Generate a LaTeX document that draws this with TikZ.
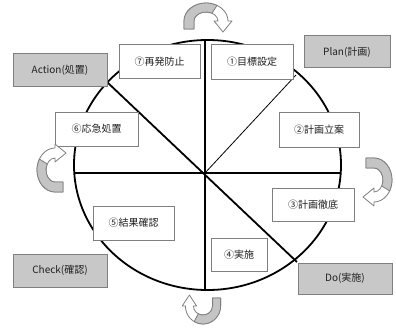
\documentclass[tikz,border=0pt]{standalone}
\usepackage{fontspec}
\setmainfont{Noto Sans CJK JP}
\definecolor{boxgray}{HTML}{C8C8C8}
\definecolor{edgegray}{HTML}{7F7F7F}
\definecolor{arrowgray}{HTML}{C4C4C4}
\definecolor{txt}{HTML}{202020}
\newcommand{\cyclearrow}{%
  \filldraw[arrowedge, fill=white] (-22,-8) -- (-22,0)
    arc[start angle=180, end angle=0, x radius=22, y radius=18]
    -- (26,0) -- (17,-11) -- (8,0) -- (12,0)
    arc[start angle=0, end angle=180, x radius=12, y radius=9] -- (-12,-8) -- cycle;
  \filldraw[arrowedge, fill=arrowgray] (-22,-8) -- (-22,0)
    arc[start angle=180, end angle=60, x radius=22, y radius=18]
    -- (6,7.79) arc[start angle=60, end angle=180, x radius=12, y radius=9]
    -- (-12,-8) -- cycle;
}
\begin{document}
\begin{tikzpicture}[x=1pt,y=-1pt,
  wbox/.style={draw=edgegray, line width=1pt, fill=white, inner sep=0pt, text=txt,
    font=\fontsize{10}{12}\selectfont},
  gbox/.style={draw=edgegray, line width=1pt, fill=boxgray, inner sep=0pt, text=txt,
    font=\fontsize{10}{12}\selectfont},
  cyc/.style={line width=1.8pt, black},
  thinline/.style={line width=0.8pt, black},
  arrowedge/.style={draw=edgegray, line width=0.8pt, line join=round}]
\useasboundingbox (0,0) rectangle (396,329);

% circle and dividing lines
\draw[cyc] (207.5,165) ellipse [x radius=133.5, y radius=125];
\coordinate (C) at (205,173);
\coordinate (top) at (205,40);
\coordinate (bot) at (205,290);
\coordinate (lft) at (74,173);
\coordinate (rgt) at (341,173);
\coordinate (ul) at (107,82);
\coordinate (lr) at (297,262);
\coordinate (ur) at (296,75);
\draw[cyc] (top) -- (bot);
\draw[cyc] (lft) -- (rgt);
\draw[cyc] (ul) -- (lr);
\draw[thinline] (C) -- (ur);

% step boxes
\node[wbox, minimum width=81pt, minimum height=33pt] (b7) at (159.5,61.5) {⑦再発防止};
\node[wbox, minimum width=82pt, minimum height=34pt] (b1) at (252,62) {①目標設定};
\node[wbox, minimum width=80pt, minimum height=35pt] (b2) at (319,130) {②計画立案};
\node[wbox, minimum width=82pt, minimum height=33pt] (b3) at (313,204.5) {③計画徹底};
\node[wbox, minimum width=56pt, minimum height=33pt] (b4) at (239,254.5) {④実施};
\node[wbox, minimum width=81pt, minimum height=34pt] (b5) at (133.5,223) {⑤結果確認};
\node[wbox, minimum width=83pt, minimum height=34pt] (b6) at (96.5,129) {⑥応急処置};

% phase boxes
\node[gbox, minimum width=94pt, minimum height=32pt] (act) at (60,70) {Action(処置)};
\node[gbox, minimum width=86pt, minimum height=32pt] (plan) at (347,52) {Plan(計画)};
\node[gbox, minimum width=94pt, minimum height=33pt] (chk) at (60,270.5) {Check(確認)};
\node[gbox, minimum width=94pt, minimum height=31pt] (do) at (345,278.5) {Do(実施)};

% curved cycle arrows
\begin{scope}[shift={(206,21)}, y=1pt]
  \cyclearrow
\end{scope}
\begin{scope}[shift={(374,180)}, y=1pt, rotate=-90]
  \cyclearrow
\end{scope}
\begin{scope}[shift={(203,306)}, y=1pt, xscale=0.8, rotate=180]
  \cyclearrow
\end{scope}
\begin{scope}[shift={(55,170)}, y=1pt, rotate=90]
  \cyclearrow
\end{scope}
\end{tikzpicture}
\end{document}
